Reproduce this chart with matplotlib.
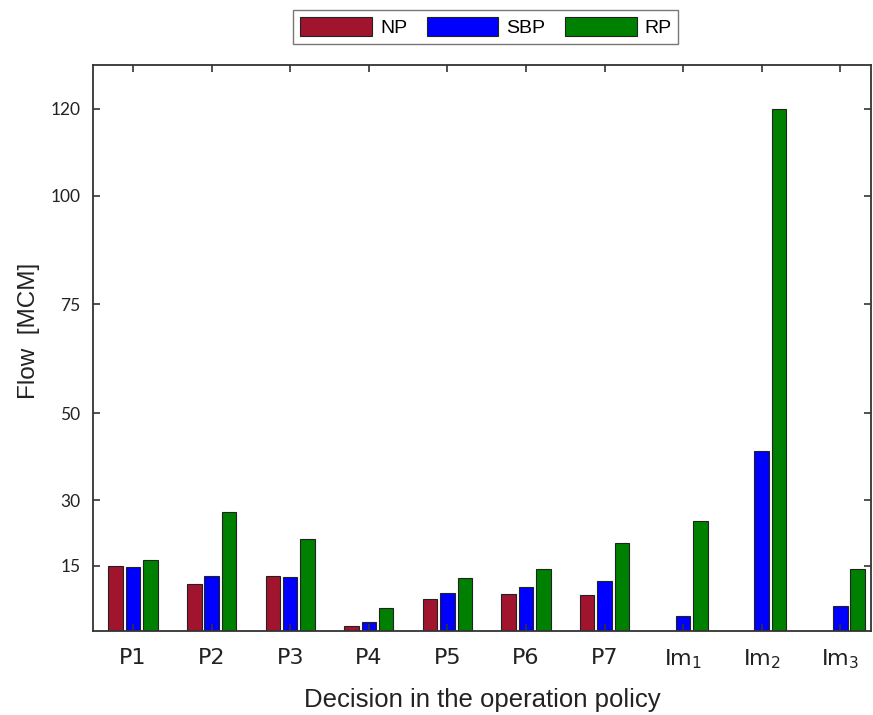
import matplotlib
matplotlib.use("Agg")
import matplotlib.pyplot as plt
import numpy as np

categories = ["P1", "P2", "P3", "P4", "P5", "P6", "P7", "Im$_1$", "Im$_2$", "Im$_3$"]
np_vals = [15.0, 10.8, 12.6, 1.1, 7.4, 8.5, 8.2, 0.0, 0.0, 0.0]
sbp_vals = [14.6, 12.7, 12.5, 2.1, 8.7, 10.2, 11.5, 3.5, 41.4, 5.8]
rp_vals = [16.2, 27.3, 21.2, 5.2, 12.2, 14.2, 20.3, 25.2, 120.0, 14.2]
yticks = [15, 30, 50, 75, 100, 120]
series_names = ["NP", "SBP", "RP"]

colors = ["#A0142E", "#0000FF", "#008000"]

fig = plt.figure(figsize=(8.73, 7.15), dpi=100)
ax = fig.add_axes([0.1065, 0.1175, 0.8912, 0.7915])

x = np.arange(1, len(categories) + 1)
off = 0.221
w = 0.185
for i, (vals, c, name) in enumerate(zip([np_vals, sbp_vals, rp_vals], colors, series_names)):
    ax.bar(x + (i - 1) * off, vals, width=w, color=c, edgecolor="#222222",
           linewidth=0.8, label=name)

ax.set_xlim(0.49, 10.39)
ax.set_ylim(0, 130)
ax.set_xticks(x)
ax.set_xticklabels(categories, family=["Liberation Sans Narrow", "DejaVu Sans"], fontsize=16,
                   color="#222222")
ax.set_yticks(yticks)
ax.set_yticklabels([str(t) for t in yticks], family="Lato", fontsize=12.5, color="#222222")
ax.tick_params(axis="both", direction="in", length=5, width=1.2, color="#333333",
               top=True, right=True)
ax.tick_params(axis="x", pad=12)
ax.tick_params(axis="y", pad=9)
for s in ax.spines.values():
    s.set_linewidth(1.3)
    s.set_color("#333333")

ax.set_xlabel("Decision in the operation policy", family="Liberation Sans", fontsize=18.5,
              color="#222222", labelpad=12)
ax.set_ylabel("Flow  [MCM]", family="Liberation Sans", fontsize=17.5, color="#222222")
ax.yaxis.set_label_coords(-0.068, 0.53)

leg = ax.legend(loc="lower center", bbox_to_anchor=(0.505, 1.02), ncol=3, frameon=True,
                fancybox=False, edgecolor="#555555", handlelength=3.7, handleheight=1.1,
                handletextpad=0.4, columnspacing=1.0, borderpad=0.35,
                prop={"family": "Liberation Sans", "size": 14})
leg.get_frame().set_linewidth(1.0)

fig.savefig("out.png", dpi=100)
